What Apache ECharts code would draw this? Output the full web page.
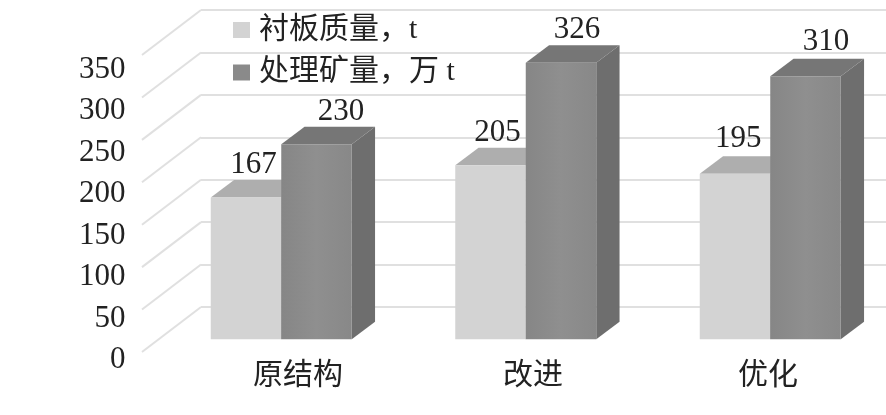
<!DOCTYPE html>
<html><head><meta charset="utf-8">
<style>html,body{margin:0;padding:0;background:#fff;overflow:hidden}#c{width:886px;height:415px}</style>
<script src="https://cdn.jsdelivr.net/npm/echarts@6/dist/echarts.min.js"></script>
</head><body><div id="c"></div>
<script>
const categories = ['原结构', '改进', '优化'];
const yTicks = [0, 50, 100, 150, 200, 250, 300, 350];
const linerMass = [167, 205, 195];
const oreProcessed = [230, 326, 310];
const seriesNames = ['衬板质量，t', '处理矿量，万 t'];

const SERIF = '"Liberation Serif","Noto Sans CJK SC",serif';
const TEXT = '#222';
const WALL = '#e0e0e0';
const labelShiftX = [[7.5, 7, 3.3], [24.6, 16, 20.5]];
const labelShiftY = [-32.5, -32.5, -34.5];

function barRender(side, colors, shifts) {
  return function (params, api) {
    const i = api.value(0), v = api.value(1);
    const top = api.coord([i, v]), base = api.coord([i, 0]);
    const w = 70.5, fx = -42, fy = 32.3, dx = 23.3, dy = 17.5;
    const x0 = top[0] + fx + (side === 0 ? -w : 0), x1 = x0 + w;
    const yT = top[1] + fy, yB = base[1] + fy;
    return {
      type: 'group',
      children: [
        { type: 'polygon', shape: { points: [[x1, yT], [x1 + dx, yT - dy], [x1 + dx, yB - dy], [x1, yB]] }, style: { fill: colors.side } },
        { type: 'polygon', shape: { points: [[x0, yT], [x0 + dx, yT - dy], [x1 + dx, yT - dy], [x1, yT]] }, style: { fill: colors.top } },
        { type: 'rect', shape: { x: x0, y: yT, width: w, height: yB - yT }, style: { fill: colors.front } },
        { type: 'text', style: { text: String(v), x: x0 + w / 2 + shifts[i], y: yT + labelShiftY[i], align: 'center', verticalAlign: 'middle', fontFamily: SERIF, fontSize: 31, fill: TEXT } }
      ]
    };
  };
}

const darkFront = new echarts.graphic.LinearGradient(0, 0, 1, 0, [
  { offset: 0, color: '#868686' }, { offset: 0.5, color: '#8f8f8f' }, { offset: 1, color: '#888888' }
]);

const chart = echarts.init(document.getElementById('c'), null, { renderer: 'canvas' });
chart.setOption({
  animation: false,
  backgroundColor: '#fff',
  grid: [
    { left: 201, top: 10, width: 733.5, height: 297, outerBoundsMode: 'none' },
    { left: 180.5, top: 69.5, width: 705, height: 290.5, outerBoundsMode: 'none' }
  ],
  legend: {
    data: seriesNames, orient: 'vertical', left: 228, top: 10, itemWidth: 17, itemHeight: 16, itemGap: 12.5,
    icon: 'rect', textStyle: { fontFamily: SERIF, fontSize: 30, color: TEXT, padding: [0, 0, 0, 4] }
  },
  xAxis: [
    { type: 'category', gridIndex: 0, data: categories, show: false },
    { type: 'category', gridIndex: 1, data: categories, axisLine: { show: false }, axisTick: { show: false },
      axisLabel: { margin: 1, fontFamily: SERIF, fontSize: 30, color: TEXT } }
  ],
  yAxis: [
    { type: 'value', gridIndex: 0, min: 0, max: 350, interval: 50, axisLine: { show: false }, axisTick: { show: false },
      axisLabel: { show: false }, splitLine: { lineStyle: { color: WALL, width: 2 } } },
    { type: 'value', gridIndex: 1, min: 0, max: 350, interval: 50, axisLine: { show: false }, axisTick: { show: false },
      splitLine: { show: false }, axisLabel: { margin: 55, fontFamily: SERIF, fontSize: 31, color: TEXT } }
  ],
  series: [
    { type: 'custom', name: 'wall', xAxisIndex: 0, yAxisIndex: 0, silent: true, z: 1,
      data: yTicks.map(t => [0, t]), encode: { x: 0, y: 1 },
      renderItem: function (params, api) {
        const p = api.coord([0, api.value(1)]);
        const x = params.coordSys.x;
        return { type: 'line', shape: { x1: x, y1: p[1], x2: x - 59, y2: p[1] + 45 }, style: { stroke: WALL, lineWidth: 2, fill: null } };
      } },
    { type: 'custom', name: seriesNames[0], xAxisIndex: 0, yAxisIndex: 0, z: 3, itemStyle: { color: '#d3d3d3' },
      data: linerMass.map((v, i) => [i, v]), encode: { x: 0, y: 1 },
      renderItem: barRender(0, { front: '#d3d3d3', top: '#aeaeae', side: '#9a9a9a' }, labelShiftX[0]) },
    { type: 'custom', name: seriesNames[1], xAxisIndex: 0, yAxisIndex: 0, z: 4, itemStyle: { color: '#8a8a8a' },
      data: oreProcessed.map((v, i) => [i, v]), encode: { x: 0, y: 1 },
      renderItem: barRender(1, { front: darkFront, top: '#767676', side: '#6e6e6e' }, labelShiftX[1]) }
  ]
});
</script></body></html>
